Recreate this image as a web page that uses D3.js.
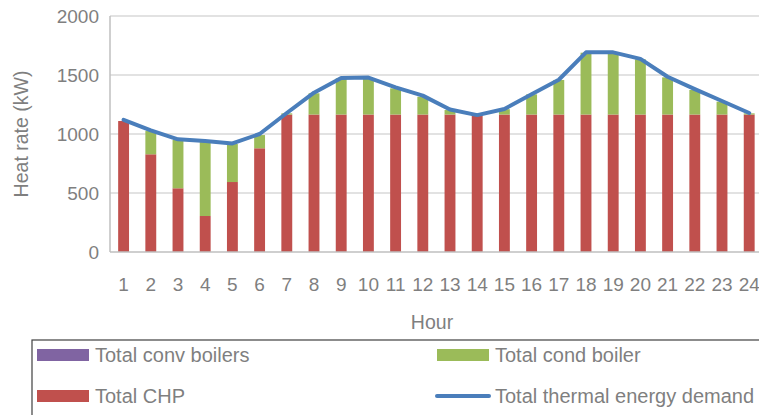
<!DOCTYPE html>
<html><head><meta charset="utf-8">
<script src="https://cdn.jsdelivr.net/npm/d3@7"></script>
<style>
html,body{margin:0;padding:0;background:#fff;}
svg{display:block;font-family:"Liberation Sans",Arial,sans-serif;}
</style></head>
<body><svg id="c" width="759" height="415"></svg>
<script>
const hours = [1,2,3,4,5,6,7,8,9,10,11,12,13,14,15,16,17,18,19,20,21,22,23,24];
const chp      = [1110,828,540,305,593,879,1165,1165,1165,1165,1165,1165,1165,1160,1165,1165,1165,1165,1165,1165,1165,1165,1165,1165];
const condBoiler = [0,197,409,630,322,112,10,180,307,310,222,151,38,0,45,171,293,524,524,468,315,208,109,10];
const convBoilers = [0,0,0,0,0,0,0,0,0,0,0,0,0,0,0,0,0,0,0,0,0,0,0,0];
const demand   = [1120,1030,955,940,920,1000,1178,1350,1475,1478,1395,1325,1208,1160,1212,1336,1460,1692,1692,1637,1485,1380,1280,1178];
const yTicks = [0,500,1000,1500,2000];

const svg = d3.select("#c");
const x = d3.scaleBand().domain(hours).range([110, 110 + 24*27.2]).paddingInner(0.6).paddingOuter(0.3);
const y = d3.scaleLinear().domain([0,2000]).range([252,16]);

// gridlines
svg.append("g").selectAll("line").data(yTicks.filter(d=>d>0)).join("line")
  .attr("x1",110).attr("x2",759).attr("y1",d=>y(d)).attr("y2",d=>y(d))
  .attr("stroke","#d9d9d9").attr("stroke-width",1.5);

const rows = hours.map((h,i)=>({h, chp:chp[i], cond:condBoiler[i], conv:convBoilers[i]}));
const stack = d3.stack().keys(["chp","cond","conv"])(rows);
const colors = {chp:"#C0504D", cond:"#9BBB59", conv:"#8064A2"};
svg.append("g").selectAll("g").data(stack).join("g").attr("fill",d=>colors[d.key])
  .selectAll("rect").data(d=>d).join("rect")
  .attr("x",d=>x(d.data.h)).attr("width",x.bandwidth())
  .attr("y",d=>y(d[1])).attr("height",d=>y(d[0])-y(d[1]));

// axes lines
svg.append("line").attr("x1",110).attr("x2",110).attr("y1",16).attr("y2",252).attr("stroke","#bfbfbf").attr("stroke-width",1.5);
svg.append("line").attr("x1",110).attr("x2",759).attr("y1",252).attr("y2",252).attr("stroke","#bfbfbf").attr("stroke-width",1.5);

// demand line
const line = d3.line().x((d,i)=>x(hours[i])+x.bandwidth()/2).y(d=>y(d));
svg.append("path").datum(demand).attr("d",line).attr("fill","none")
  .attr("stroke","#4A7EBB").attr("stroke-width",4).attr("stroke-linejoin","round").attr("stroke-linecap","round");

// y tick labels
svg.append("g").selectAll("text").data(yTicks).join("text")
  .attr("x",99).attr("y",d=>y(d)).attr("dy","0.35em").attr("text-anchor","end")
  .attr("fill","#7f7f7f").attr("font-size",19).text(d=>d);

// x tick labels
svg.append("g").selectAll("text").data(hours).join("text")
  .attr("x",d=>x(d)+x.bandwidth()/2).attr("y",284).attr("dy","0.35em").attr("text-anchor","middle")
  .attr("fill","#7f7f7f").attr("font-size",19).text(d=>d);

// axis titles
svg.append("text").attr("x",432).attr("y",322).attr("dy","0.35em").attr("text-anchor","middle")
  .attr("fill","#7f7f7f").attr("font-size",19.5).text("Hour");
svg.append("text").attr("transform","translate(21,134) rotate(-90)").attr("dy","0.35em").attr("text-anchor","middle")
  .attr("fill","#7f7f7f").attr("font-size",19.5).text("Heat rate (kW)");

// legend
svg.append("rect").attr("x",32).attr("y",340).attr("width",800).attr("height",120)
  .attr("fill","none").attr("stroke","#404040").attr("stroke-width",1.2);
const legend = [
  {label:"Total conv boilers", color:"#8064A2", type:"rect", x:37, y:355},
  {label:"Total cond boiler", color:"#9BBB59", type:"rect", x:437, y:355},
  {label:"Total CHP", color:"#C0504D", type:"rect", x:37, y:396},
  {label:"Total thermal energy demand", color:"#4A7EBB", type:"line", x:437, y:396}
];
const lg = svg.append("g").selectAll("g").data(legend).join("g");
lg.filter(d=>d.type==="rect").append("rect").attr("x",d=>d.x).attr("y",d=>d.y-6).attr("width",52).attr("height",12).attr("fill",d=>d.color);
lg.filter(d=>d.type==="line").append("line").attr("x1",d=>d.x).attr("x2",d=>d.x+52).attr("y1",d=>d.y).attr("y2",d=>d.y)
  .attr("stroke",d=>d.color).attr("stroke-width",4).attr("stroke-linecap","round");
lg.append("text").attr("x",d=>d.x+58).attr("y",d=>d.y).attr("dy","0.35em")
  .attr("fill","#7f7f7f").attr("font-size",20).text(d=>d.label);
</script></body></html>
